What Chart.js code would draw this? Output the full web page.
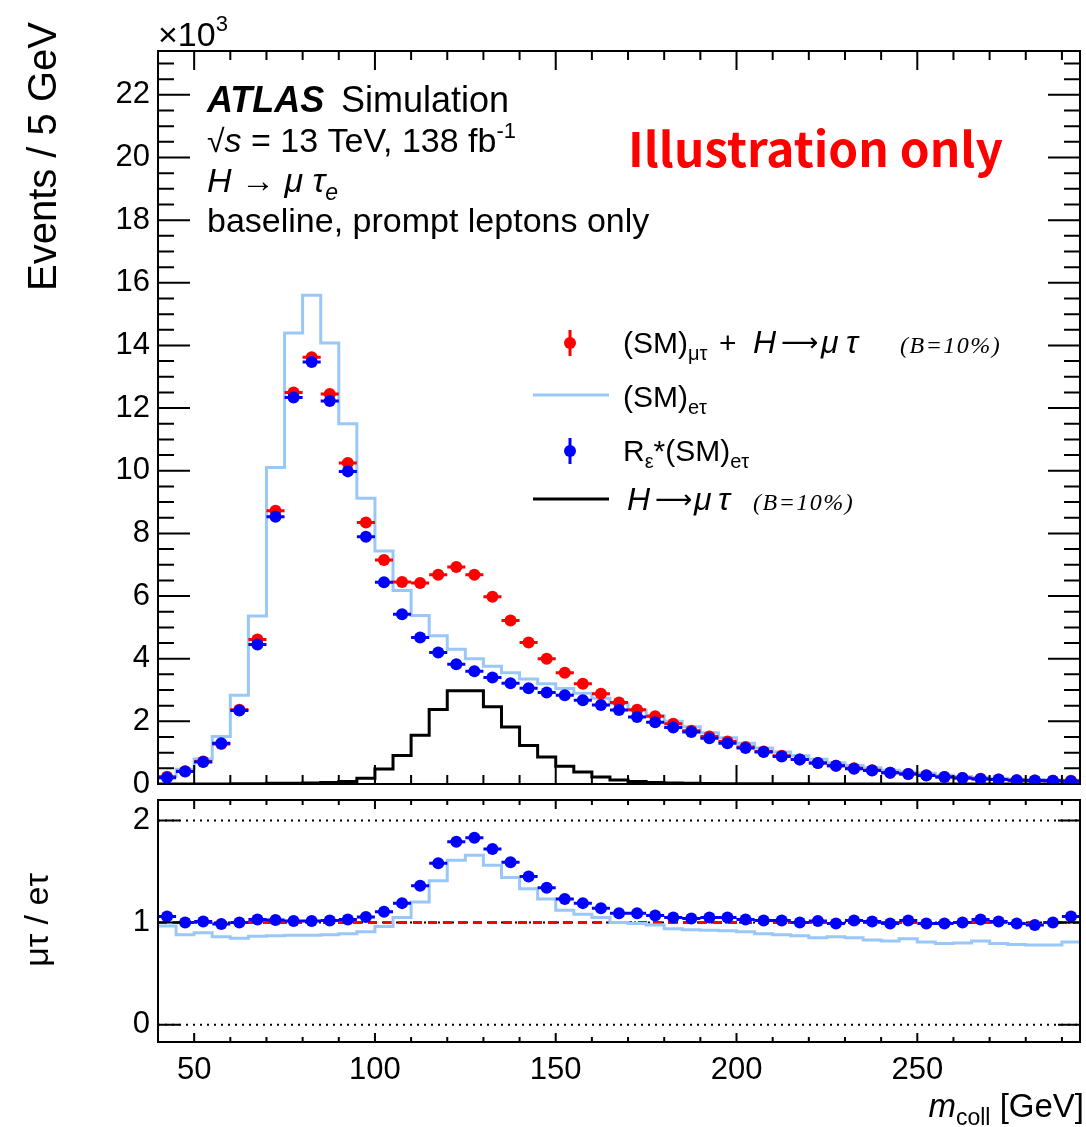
<!DOCTYPE html>
<html>
<head>
<meta charset="utf-8">
<script src="https://cdn.jsdelivr.net/npm/chart.js@4.4.1/dist/chart.umd.min.js"></script>
<style>
  html, body { margin: 0; padding: 0; background: #fff; }
  #wrap { position: relative; width: 1086px; height: 1127px; overflow: hidden; }
  #wrap canvas { position: absolute; left: 0; }
</style>
</head>
<body>
<div id="wrap">
  <canvas id="mainCanvas" width="1086" height="814" style="top:0"></canvas>
  <canvas id="ratioCanvas" width="1086" height="367" style="top:760px"></canvas>
</div>
<script>
// bin low edges [GeV], 5 GeV bins
var BIN_W = 5;
var binLow = [40, 45, 50, 55, 60, 65, 70, 75, 80, 85, 90, 95, 100, 105, 110, 115, 120, 125, 130, 135,
  140, 145, 150, 155, 160, 165, 170, 175, 180, 185, 190, 195, 200, 205, 210, 215, 220, 225, 230, 235,
  240, 245, 250, 255, 260, 265, 270, 275, 280, 285, 290];

// events / 5 GeV, x10^3
var smMuTauPlusH = [0.23, 0.41, 0.72, 1.28, 2.37, 4.61, 8.72, 12.5, 13.62, 12.45, 10.25, 8.35, 7.15, 6.45, 6.42,
  6.68, 6.93, 6.68, 5.98, 5.22, 4.52, 4.0, 3.55, 3.2, 2.88, 2.6, 2.37, 2.16, 1.92, 1.7, 1.52, 1.36, 1.18, 1.04,
  0.9, 0.78, 0.67, 0.58, 0.5, 0.44, 0.36, 0.32, 0.28, 0.22, 0.19, 0.17, 0.14, 0.12, 0.11, 0.1, 0.1];
var smETauScaled = [0.2, 0.4, 0.7, 1.3, 2.35, 4.45, 8.53, 12.34, 13.47, 12.23, 9.98, 7.89, 6.44, 5.42, 4.68,
  4.2, 3.82, 3.6, 3.4, 3.22, 3.06, 2.92, 2.83, 2.67, 2.52, 2.36, 2.14, 1.97, 1.8, 1.66, 1.46, 1.3, 1.15, 1.02,
  0.88, 0.78, 0.67, 0.58, 0.49, 0.43, 0.36, 0.32, 0.27, 0.22, 0.19, 0.16, 0.14, 0.12, 0.11, 0.1, 0.09];
var smETau = [0.24, 0.47, 0.8, 1.52, 2.83, 5.36, 10.1, 14.4, 15.6, 14.08, 11.5, 9.12, 7.44, 6.18, 5.38,
  4.73, 4.3, 4.0, 3.76, 3.55, 3.35, 3.2, 3.05, 2.9, 2.74, 2.56, 2.36, 2.18, 2.0, 1.83, 1.64, 1.48, 1.3, 1.15,
  1.02, 0.9, 0.79, 0.68, 0.59, 0.52, 0.44, 0.38, 0.34, 0.28, 0.24, 0.21, 0.18, 0.15, 0.14, 0.13, 0.12];
var hMuTau = [0, 0, 0, 0, 0.01, 0.01, 0.02, 0.02, 0.03, 0.05, 0.08, 0.18, 0.48, 0.91, 1.56,
  2.38, 2.98, 2.98, 2.47, 1.82, 1.23, 0.86, 0.57, 0.38, 0.22, 0.13, 0.08, 0.05, 0.03, 0.02, 0.015, 0.01, 0.01, 0.01,
  0.005, 0.005, 0, 0, 0, 0, 0, 0, 0, 0, 0, 0, 0, 0, 0, 0, 0];

// ratio mu tau / e tau
var ratioScaled = [1.06, 1.0, 1.01, 0.985, 1.0, 1.03, 1.025, 1.015, 1.015, 1.02, 1.03, 1.055, 1.105, 1.19, 1.36,
  1.58, 1.79, 1.83, 1.72, 1.59, 1.45, 1.34, 1.23, 1.19, 1.14, 1.09, 1.09, 1.07, 1.05, 1.04, 1.05, 1.05, 1.03, 1.02,
  1.02, 1.0, 1.015, 0.99, 1.02, 1.01, 0.99, 1.02, 0.99, 0.99, 1.0, 1.03, 1.01, 0.99, 0.975, 1.0, 1.06];
var ratioUnscaled = [0.965, 0.88, 0.9, 0.86, 0.845, 0.865, 0.87, 0.875, 0.875, 0.88, 0.89, 0.91, 0.96, 1.05, 1.2,
  1.41, 1.61, 1.66, 1.56, 1.44, 1.33, 1.23, 1.12, 1.08, 1.05, 1.0, 0.99, 0.975, 0.94, 0.93, 0.925, 0.92, 0.91, 0.89,
  0.88, 0.87, 0.85, 0.86, 0.85, 0.83, 0.82, 0.84, 0.81, 0.795, 0.8, 0.82, 0.795, 0.785, 0.78, 0.78, 0.81];

// tick labels
var xTicks = [50, 100, 150, 200, 250];
var yMainTicks = [0, 2, 4, 6, 8, 10, 12, 14, 16, 18, 20, 22];
var yRatioTicks = [0, 1, 2];
var refLines = [0, 1, 2];

var SANS = '"Liberation Sans", Arial, Helvetica, sans-serif';
var SERIF = '"Liberation Serif", "Times New Roman", serif';
var ARROW = '"DejaVu Sans", ' + SANS;
var RED = '#ff0000', BLUE = '#0000ff', LIGHT = '#99c8f8', BLACK = '#000000';
var RATIO_TOP = 760;
var MARKER_R = 6;

function font(size, style) { return (style ? style + ' ' : '') + size + 'px ' + SANS; }

function histPoints(vals) {
  var pts = binLow.map(function (lo, i) { return { x: lo, y: vals[i] }; });
  pts.push({ x: binLow[binLow.length - 1] + BIN_W, y: vals[vals.length - 1] });
  return pts;
}
function markerPoints(vals) {
  return binLow.map(function (lo, i) { return { x: lo + BIN_W / 2, y: vals[i] }; });
}
function barPoints(vals) {
  var pts = [];
  binLow.forEach(function (lo, i) {
    pts.push({ x: lo, y: vals[i] }, { x: lo + BIN_W, y: vals[i] }, { x: lo + BIN_W, y: null });
  });
  return pts;
}

// draws a run of text pieces: {t, f, dy, dx, x, c, ls}
function drawParts(ctx, x, y, parts) {
  var cx = x;
  ctx.textAlign = 'left';
  ctx.textBaseline = 'alphabetic';
  parts.forEach(function (p) {
    if (p.x !== undefined) cx = p.x;
    cx += p.dx || 0;
    ctx.font = p.f;
    ctx.fillStyle = p.c || BLACK;
    ctx.letterSpacing = p.ls || '0px';
    ctx.fillText(p.t, cx, y + (p.dy || 0));
    cx += ctx.measureText(p.t).width;
  });
  ctx.letterSpacing = '0px';
  return cx;
}
function partsWidth(ctx, parts) {
  var w = 0;
  parts.forEach(function (p) { ctx.font = p.f; w += (p.dx || 0) + ctx.measureText(p.t).width; });
  return w;
}

// ROOT style frame with inward ticks
var frameTicks = {
  id: 'frameTicks',
  afterDatasetsDraw: function (chart, args, o) {
    var ctx = chart.ctx, a = chart.chartArea, sx = chart.scales.x, sy = chart.scales.y;
    ctx.save();
    ctx.strokeStyle = BLACK;
    ctx.lineWidth = 2;
    ctx.beginPath();
    var k, v, len, p;
    for (k = Math.ceil(sx.min / o.xMinor); k * o.xMinor < sx.max; k++) {
      v = k * o.xMinor;
      if (v <= sx.min) continue;
      len = xTicks.indexOf(v) >= 0 ? o.xMajorLen : o.xMinorLen;
      p = sx.getPixelForValue(v);
      ctx.moveTo(p, a.bottom); ctx.lineTo(p, a.bottom - len);
      ctx.moveTo(p, a.top); ctx.lineTo(p, a.top + len);
    }
    sy.ticks.forEach(function (t) {
      p = sy.getPixelForValue(t.value);
      ctx.moveTo(a.left, p); ctx.lineTo(a.left + o.yMajorLen, p);
      ctx.moveTo(a.right, p); ctx.lineTo(a.right - o.yMajorLen, p);
    });
    if (o.yMinor) {
      for (k = Math.ceil(sy.min / o.yMinor); k * o.yMinor < sy.max; k++) {
        v = k * o.yMinor;
        if (Math.abs(v / o.yMajor - Math.round(v / o.yMajor)) < 1e-6) continue;
        p = sy.getPixelForValue(v);
        ctx.moveTo(a.left, p); ctx.lineTo(a.left + o.yMinorLen, p);
        ctx.moveTo(a.right, p); ctx.lineTo(a.right - o.yMinorLen, p);
      }
    }
    ctx.stroke();
    ctx.strokeRect(a.left, a.top, a.right - a.left, a.bottom - a.top);
    ctx.restore();
  }
};

function legendMarker(ctx, x, y, color) {
  ctx.strokeStyle = color; ctx.fillStyle = color; ctx.lineWidth = 3;
  ctx.beginPath(); ctx.moveTo(x, y - 13); ctx.lineTo(x, y + 13); ctx.stroke();
  ctx.beginPath(); ctx.arc(x, y, MARKER_R, 0, Math.PI * 2); ctx.fill();
}
function legendLine(ctx, y, color) {
  ctx.strokeStyle = color; ctx.lineWidth = 3;
  ctx.beginPath(); ctx.moveTo(533, y); ctx.lineTo(609, y); ctx.stroke();
}

var mainText = {
  id: 'mainText',
  afterDraw: function (chart) {
    var ctx = chart.ctx;
    ctx.save();
    // axis multiplier
    drawParts(ctx, 158, 46, [{ t: '\u00d710', f: font(34) }, { t: '3', f: font(22), dy: -15 }]);
    // y title
    ctx.save();
    ctx.translate(56, 22);
    ctx.rotate(-Math.PI / 2);
    ctx.font = font(40);
    ctx.fillStyle = BLACK;
    ctx.textAlign = 'right';
    ctx.textBaseline = 'alphabetic';
    ctx.fillText('Events / 5 GeV', 0, 0);
    ctx.restore();

    // ATLAS label block
    drawParts(ctx, 207, 112, [{ t: 'ATLAS', f: font(36, 'italic bold') }]);
    drawParts(ctx, 341, 112, [{ t: 'Simulation', f: font(36) }]);
    drawParts(ctx, 207, 152, [
      { t: '\u221a', f: font(32) }, { t: 's', f: font(34, 'italic') },
      { t: ' = 13 TeV, 138 fb', f: font(34) }, { t: '-1', f: font(22), dy: -14 }
    ]);
    drawParts(ctx, 207, 192, [
      { t: 'H', f: font(34, 'italic') }, { t: ' \u2192 ', f: font(34) },
      { t: '\u03bc \u03c4', f: font(34, 'italic') }, { t: 'e', f: font(23, 'italic'), dy: 8 }
    ]);
    drawParts(ctx, 207, 232, [{ t: 'baseline, prompt leptons only', f: font(34) }]);

    // watermark
    var wf = '"Noto Sans CJK SC", "Open Sans", ' + SANS;
    ctx.font = 'bold 48px ' + wf;
    var size = 48 * 375 / ctx.measureText('Illustration only').width;
    drawParts(ctx, 628, 167, [{ t: 'Illustration only', f: 'bold ' + size.toFixed(1) + 'px ' + wf, c: RED }]);

    // legend
    var mx = 570;
    var serifSmall = 'italic 24px ' + SERIF;
    var arrowFont = '26px ' + ARROW;
    legendMarker(ctx, mx, 343, RED);
    drawParts(ctx, 623, 353, [
      { t: '(SM)', f: font(30) }, { t: '\u03bc\u03c4', f: font(20), dy: 7 },
      { t: '+', f: font(30), x: 719 }, { t: 'H', f: font(32, 'italic'), x: 753 },
      { t: '\u27f6', f: arrowFont, x: 781, dy: -2 }, { t: '\u03bc', f: font(32, 'italic'), x: 821 },
      { t: '\u03c4', f: font(32, 'italic'), x: 846 },
      { t: '(B=10%)', f: serifSmall, x: 900, ls: '1.5px' }
    ]);
    legendLine(ctx, 395, LIGHT);
    drawParts(ctx, 623, 407, [{ t: '(SM)', f: font(30) }, { t: 'e\u03c4', f: font(20), dy: 7 }]);
    legendMarker(ctx, mx, 451, BLUE);
    drawParts(ctx, 623, 461, [
      { t: 'R', f: font(30) }, { t: '\u03b5', f: font(20), dy: 7 },
      { t: '*(SM)', f: font(30) }, { t: 'e\u03c4', f: font(20), dy: 7 }
    ]);
    legendLine(ctx, 499, BLACK);
    drawParts(ctx, 627, 510, [
      { t: 'H', f: font(32, 'italic') }, { t: '\u27f6', f: arrowFont, x: 655, dy: -2 },
      { t: '\u03bc', f: font(32, 'italic'), x: 694 }, { t: '\u03c4', f: font(32, 'italic'), x: 718 },
      { t: '(B=10%)', f: serifSmall, x: 753, ls: '1.5px' }
    ]);
    ctx.restore();
  }
};

var ratioDecor = {
  id: 'ratioDecor',
  beforeDatasetsDraw: function (chart) {
    var ctx = chart.ctx, a = chart.chartArea, sy = chart.scales.y;
    ctx.save();
    ctx.lineWidth = 2;
    ctx.strokeStyle = BLACK;
    ctx.setLineDash([2, 5]);
    refLines.forEach(function (v) {
      var p = sy.getPixelForValue(v);
      ctx.beginPath(); ctx.moveTo(a.left, p); ctx.lineTo(a.right, p); ctx.stroke();
    });
    ctx.strokeStyle = RED;
    ctx.lineWidth = 3;
    ctx.setLineDash([9, 6]);
    var p1 = sy.getPixelForValue(1);
    ctx.beginPath(); ctx.moveTo(a.left, p1); ctx.lineTo(a.right, p1); ctx.stroke();
    ctx.restore();
  },
  afterDraw: function (chart) {
    var ctx = chart.ctx;
    ctx.save();
    // y title
    ctx.save();
    ctx.translate(48, 920 - RATIO_TOP);
    ctx.rotate(-Math.PI / 2);
    ctx.font = font(34);
    ctx.fillStyle = BLACK;
    ctx.textAlign = 'center';
    ctx.textBaseline = 'alphabetic';
    ctx.fillText('\u03bc\u03c4 / e\u03c4', 0, 0);
    ctx.restore();
    // x title
    var parts = [
      { t: 'm', f: font(33, 'italic') }, { t: 'coll', f: font(23), dy: 8 }, { t: ' [GeV]', f: font(33) }
    ];
    var w = partsWidth(ctx, parts);
    drawParts(ctx, 1084 - w, 1117 - RATIO_TOP, parts);
    ctx.restore();
  }
};

function axisCommon(extra) {
  var base = {
    type: 'linear',
    grid: { display: false, drawTicks: false },
    border: { display: false }
  };
  return Object.assign(base, extra);
}

function pointSet(vals, color, order) {
  return { data: markerPoints(vals), showLine: false, pointRadius: MARKER_R, pointBorderWidth: 0,
    pointBackgroundColor: color, borderColor: color, order: order };
}
function barSet(vals, color, order) {
  return { data: barPoints(vals), borderColor: color, borderWidth: 3, pointRadius: 0, order: order };
}
function histSet(vals, color, order) {
  return { data: histPoints(vals), stepped: 'before', borderColor: color, borderWidth: 3, pointRadius: 0, order: order };
}

new Chart(document.getElementById('mainCanvas').getContext('2d'), {
  type: 'line',
  data: {
    datasets: [
      pointSet(smETauScaled, BLUE, 0),
      barSet(smETauScaled, BLUE, 1),
      pointSet(smMuTauPlusH, RED, 2),
      barSet(smMuTauPlusH, RED, 3),
      histSet(smETau, LIGHT, 4),
      histSet(hMuTau, BLACK, 5)
    ]
  },
  options: {
    responsive: false,
    animation: false,
    events: [],
    layout: { padding: { top: 51, right: 1, left: 0, bottom: 0 } },
    plugins: {
      legend: { display: false },
      tooltip: { enabled: false },
      frameTicks: { xMinor: 10, xMajorLen: 19, xMinorLen: 9, yMajor: 2, yMinor: 0.5, yMajorLen: 32, yMinorLen: 16 }
    },
    scales: {
      x: axisCommon({
        min: 40, max: 295,
        ticks: { display: false },
        afterBuildTicks: function (s) { s.ticks = xTicks.map(function (v) { return { value: v }; }); },
        afterFit: function (s) { s.height = 30; }
      }),
      y: axisCommon({
        min: 0, max: 23.4,
        ticks: { font: { family: SANS, size: 31 }, color: BLACK, padding: 8 },
        afterBuildTicks: function (s) { s.ticks = yMainTicks.map(function (v) { return { value: v }; }); },
        afterFit: function (s) { s.width = 158; }
      })
    }
  },
  plugins: [frameTicks, mainText]
});

new Chart(document.getElementById('ratioCanvas').getContext('2d'), {
  type: 'line',
  data: {
    datasets: [
      pointSet(ratioScaled, BLUE, 0),
      barSet(ratioScaled, BLUE, 1),
      histSet(ratioUnscaled, LIGHT, 2)
    ]
  },
  options: {
    responsive: false,
    animation: false,
    events: [],
    layout: { padding: { top: 40, right: 1, left: 0, bottom: 0 } },
    plugins: {
      legend: { display: false },
      tooltip: { enabled: false },
      frameTicks: { xMinor: 10, xMajorLen: 9, xMinorLen: 5, yMajor: 1, yMinor: 0, yMajorLen: 22, yMinorLen: 0 }
    },
    scales: {
      x: axisCommon({
        min: 40, max: 295,
        ticks: { font: { family: SANS, size: 31 }, color: BLACK, padding: 10, maxRotation: 0, autoSkip: false },
        afterBuildTicks: function (s) { s.ticks = xTicks.map(function (v) { return { value: v }; }); },
        afterFit: function (s) { s.height = 85; }
      }),
      y: axisCommon({
        min: -0.17, max: 2.2,
        ticks: { font: { family: SANS, size: 31 }, color: BLACK, padding: 8 },
        afterBuildTicks: function (s) { s.ticks = yRatioTicks.map(function (v) { return { value: v }; }); },
        afterFit: function (s) { s.width = 158; }
      })
    }
  },
  plugins: [frameTicks, ratioDecor]
});
</script>
</body>
</html>
